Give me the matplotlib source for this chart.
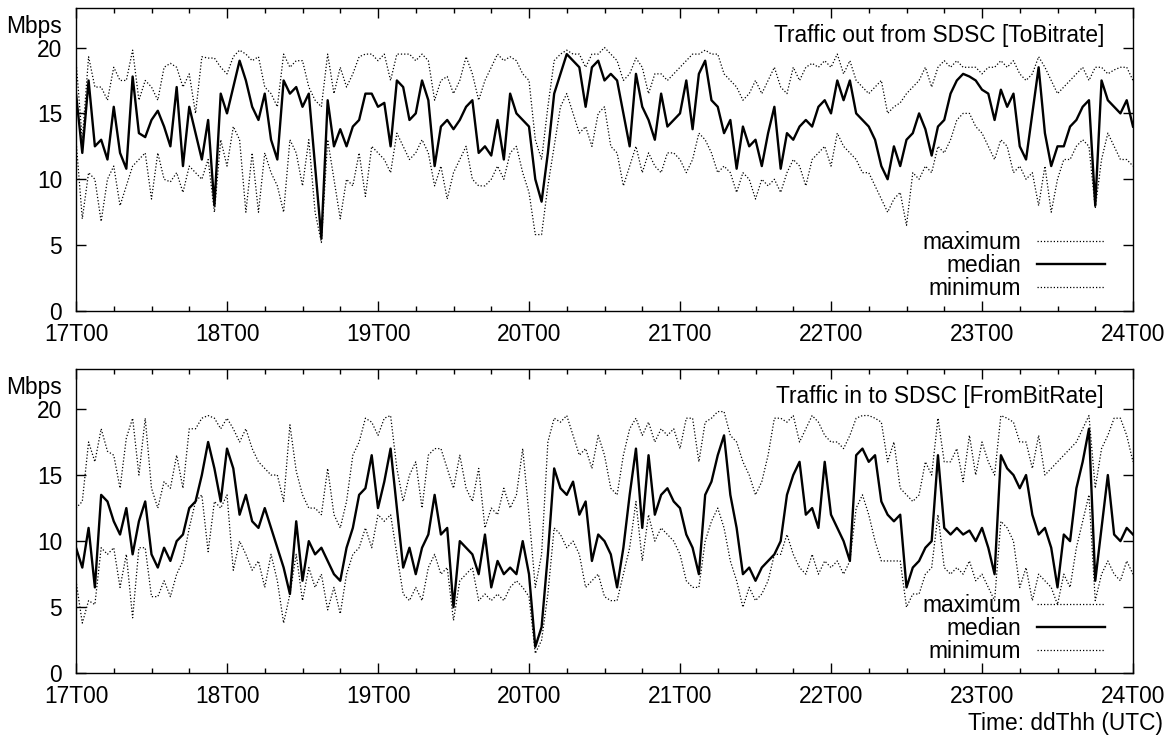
import numpy as np
import matplotlib
matplotlib.use("Agg")
import matplotlib.pyplot as plt

plt.rcParams['font.family'] = ['Liberation Sans', 'DejaVu Sans']
plt.rcParams['font.size'] = 16.4

# hodinove hodnoty od 17T00 do 24T00 (169 bodu)
hours = np.arange(169)
day_labels = ['17T00', '18T00', '19T00', '20T00', '21T00', '22T00', '23T00', '24T00']

# Traffic out from SDSC [ToBitrate]
out_median = [
    16.5, 12.0, 17.5, 12.5, 13.0, 11.5, 15.5, 12.0, 10.8, 17.8,
    13.5, 13.2, 14.5, 15.2, 14.0, 12.5, 17.0, 11.0, 15.5, 13.5,
    11.5, 14.5, 8.0, 16.5, 15.0, 17.0, 19.0, 17.5, 15.5, 14.5,
    16.5, 13.0, 11.5, 17.5, 16.5, 17.0, 15.5, 16.5, 11.0, 5.5,
    16.0, 12.5, 13.8, 12.5, 14.0, 14.5, 16.5, 16.5, 15.5, 15.8,
    12.5, 17.5, 17.0, 14.5, 15.0, 17.5, 16.0, 11.0, 14.0, 14.5,
    13.8, 14.5, 15.5, 16.0, 12.0, 12.5, 11.8, 14.5, 11.5, 16.5,
    15.0, 14.5, 14.0, 10.0, 8.3, 12.0, 16.5, 18.0, 19.5, 19.0,
    18.5, 15.5, 18.5, 19.0, 17.5, 18.0, 17.5, 15.0, 12.5, 18.0,
    15.5, 14.5, 13.0, 16.5, 14.0, 14.5, 15.0, 17.5, 13.8, 18.0,
    19.0, 16.0, 15.5, 13.5, 14.5, 10.8, 14.0, 12.5, 13.0, 11.0,
    13.5, 15.5, 10.8, 13.5, 13.0, 14.0, 14.5, 14.0, 15.5, 16.0,
    15.0, 17.5, 16.0, 17.5, 15.0, 14.5, 14.0, 13.0, 11.0, 10.0,
    12.5, 11.0, 13.0, 13.5, 15.0, 13.8, 11.8, 14.0, 14.5, 16.5,
    17.5, 18.0, 17.8, 17.5, 16.8, 16.5, 14.5, 16.8, 15.5, 16.5,
    12.5, 11.5, 15.0, 18.5, 13.5, 11.0, 12.5, 12.5, 14.0, 14.5,
    15.5, 16.0, 8.0, 17.5, 16.0, 15.5, 15.0, 16.0, 14.0]
out_max = [
    19.0, 13.0, 19.3, 17.0, 17.0, 16.0, 18.5, 17.5, 17.5, 19.8,
    16.0, 17.5, 17.0, 16.0, 18.5, 18.8, 18.5, 17.0, 18.0, 15.0,
    19.3, 19.2, 19.2, 18.5, 18.0, 19.3, 19.8, 19.5, 19.0, 19.3,
    17.0, 16.5, 15.5, 19.5, 18.5, 19.0, 19.0, 17.0, 16.0, 15.5,
    19.5, 16.5, 18.5, 17.0, 18.0, 19.3, 19.5, 19.5, 19.0, 19.5,
    17.5, 19.5, 19.5, 19.5, 19.0, 19.5, 19.0, 16.0, 17.5, 17.8,
    16.5, 17.5, 19.3, 18.0, 16.0, 17.5, 18.5, 19.5, 19.0, 19.3,
    19.0, 18.0, 17.5, 13.0, 11.5, 15.5, 19.0, 19.5, 19.8, 19.5,
    19.5, 18.5, 19.5, 19.5, 20.0, 19.5, 19.0, 17.5, 18.0, 19.2,
    18.5, 16.5, 18.0, 18.0, 17.5, 18.0, 18.5, 19.0, 19.5, 19.5,
    19.8, 19.5, 19.5, 18.0, 17.5, 17.0, 16.0, 16.5, 17.5, 16.5,
    17.5, 18.5, 17.0, 16.5, 18.5, 17.5, 18.5, 18.8, 18.5, 19.0,
    18.5, 19.5, 18.0, 19.0, 17.5, 17.0, 16.5, 17.0, 17.5, 15.0,
    15.5, 15.8, 16.5, 17.0, 17.5, 18.5, 17.0, 18.5, 19.0, 18.5,
    19.0, 18.5, 18.5, 18.5, 18.0, 18.5, 18.5, 19.0, 18.5, 19.0,
    18.0, 17.5, 18.0, 19.3, 18.5, 17.5, 16.5, 17.0, 17.5, 18.0,
    18.5, 17.5, 18.5, 18.5, 18.0, 18.3, 18.5, 18.5, 17.5]
out_min = [
    13.0, 7.0, 10.5, 10.0, 6.8, 10.0, 11.0, 8.0, 9.5, 11.0,
    11.5, 12.0, 8.5, 12.0, 10.0, 9.8, 10.5, 9.0, 11.0, 10.5,
    10.0, 11.5, 7.5, 13.0, 11.0, 14.0, 13.0, 7.5, 12.0, 7.5,
    12.0, 10.5, 9.5, 7.5, 13.0, 12.0, 9.5, 13.0, 7.5, 5.2,
    13.0, 10.0, 7.0, 10.0, 9.5, 12.0, 8.7, 12.5, 12.0, 11.5,
    10.5, 13.5, 12.5, 11.5, 12.0, 13.0, 12.0, 9.5, 11.0, 8.5,
    10.5, 11.5, 12.5, 10.0, 9.5, 9.5, 10.0, 11.0, 10.0, 12.0,
    12.5, 10.5, 9.0, 5.8, 5.8, 9.5, 12.5, 15.5, 16.5, 15.0,
    13.5, 14.0, 12.5, 15.0, 15.5, 12.5, 12.0, 9.5, 11.0, 12.5,
    10.5, 12.0, 11.0, 10.5, 12.0, 12.0, 11.5, 10.5, 11.5, 13.5,
    13.0, 12.0, 10.5, 11.0, 10.5, 9.0, 10.5, 10.0, 8.5, 10.0,
    9.5, 10.0, 9.0, 10.5, 11.5, 11.0, 9.5, 11.5, 12.0, 12.5,
    11.0, 13.5, 12.5, 12.0, 11.5, 10.5, 10.5, 9.5, 8.5, 7.5,
    8.5, 9.0, 6.5, 10.5, 10.0, 11.0, 10.5, 12.5, 12.0, 13.0,
    14.5, 15.0, 15.0, 14.0, 13.5, 12.5, 11.5, 13.0, 12.5, 10.5,
    11.0, 10.0, 10.5, 8.0, 11.0, 7.5, 10.0, 11.5, 11.5, 12.5,
    13.0, 12.5, 7.8, 11.5, 13.5, 12.5, 11.5, 11.5, 11.0]

# Traffic in to SDSC [FromBitRate]
in_median = [
    9.5, 8.0, 11.0, 6.5, 13.5, 13.0, 11.5, 10.5, 12.5, 9.0,
    11.5, 13.0, 9.0, 8.0, 9.5, 8.5, 10.0, 10.5, 12.5, 13.0,
    15.0, 17.5, 15.5, 13.0, 17.0, 15.5, 12.0, 13.5, 11.5, 11.0,
    12.5, 11.0, 9.5, 8.0, 6.0, 11.5, 7.0, 10.0, 9.0, 9.5,
    8.5, 7.5, 7.0, 9.5, 11.0, 13.5, 14.0, 16.5, 12.5, 14.5,
    17.0, 12.5, 8.0, 9.5, 7.5, 9.5, 10.5, 13.5, 10.5, 11.0,
    5.0, 10.0, 9.5, 9.0, 7.5, 10.5, 6.5, 8.5, 7.5, 8.0,
    7.5, 10.0, 7.5, 2.0, 3.5, 9.0, 15.5, 14.0, 13.5, 14.5,
    12.0, 13.0, 8.5, 10.5, 10.0, 9.0, 6.5, 9.5, 13.5, 17.0,
    11.0, 16.5, 12.0, 13.5, 14.0, 13.0, 12.5, 10.5, 9.5, 7.5,
    13.5, 14.5, 16.5, 18.0, 13.5, 11.0, 7.5, 8.0, 7.0, 8.0,
    8.5, 9.0, 10.0, 13.5, 15.0, 16.0, 12.0, 12.5, 11.0, 16.0,
    12.0, 11.0, 10.0, 8.5, 16.5, 17.0, 16.0, 16.5, 13.0, 12.0,
    11.5, 12.0, 6.5, 8.0, 8.5, 9.5, 10.0, 16.5, 11.0, 10.5,
    11.0, 10.5, 10.8, 10.0, 11.0, 9.5, 7.5, 16.5, 15.5, 15.0,
    14.0, 15.0, 12.0, 10.5, 11.0, 9.5, 6.5, 10.5, 10.0, 14.0,
    16.0, 18.5, 7.0, 11.0, 15.0, 10.5, 10.0, 11.0, 10.5]
in_max = [
    12.5, 13.0, 17.5, 16.0, 18.5, 16.8, 16.5, 14.0, 17.8, 19.3,
    15.0, 19.3, 14.0, 12.5, 14.5, 14.0, 16.5, 14.0, 18.5, 18.5,
    19.3, 19.5, 19.3, 18.5, 19.3, 18.5, 17.5, 18.5, 17.0, 16.0,
    15.5, 15.0, 15.0, 13.0, 18.8, 15.3, 13.5, 12.5, 12.5, 12.0,
    15.5, 12.0, 11.0, 13.0, 16.5, 17.5, 19.3, 19.0, 18.0, 19.3,
    19.5, 15.5, 13.0, 15.0, 16.0, 12.5, 16.5, 17.0, 17.0, 15.5,
    14.0, 16.5, 14.0, 13.0, 15.5, 11.0, 12.5, 12.0, 14.0, 12.5,
    13.5, 17.0, 12.0, 6.5, 9.0, 17.5, 19.3, 19.0, 19.5, 18.0,
    16.5, 17.0, 15.5, 18.0, 16.5, 14.0, 13.5, 16.5, 18.5, 19.3,
    18.0, 19.0, 17.5, 18.5, 18.0, 18.5, 17.0, 19.3, 19.3, 16.0,
    19.0, 19.3, 19.8, 19.8, 18.0, 17.5, 16.0, 15.0, 13.5, 14.5,
    16.5, 19.3, 19.3, 19.0, 19.5, 17.5, 18.5, 19.5, 19.0, 18.0,
    17.5, 17.5, 17.0, 18.0, 19.3, 19.5, 19.5, 19.3, 19.0, 16.0,
    17.5, 14.0, 13.5, 13.0, 13.5, 16.0, 15.0, 19.3, 16.0, 16.0,
    17.0, 14.5, 18.0, 15.0, 17.5, 16.0, 15.0, 19.5, 19.3, 19.0,
    17.5, 17.5, 15.5, 18.0, 15.0, 15.5, 16.0, 16.5, 17.0, 17.5,
    18.5, 19.5, 14.0, 17.0, 18.0, 19.3, 19.3, 18.0, 16.0]
in_min = [
    7.0, 3.8, 5.5, 5.2, 9.5, 9.0, 9.5, 6.5, 9.0, 4.2,
    9.5, 9.5, 5.8, 5.8, 7.0, 5.8, 7.5, 8.5, 11.0, 13.0,
    13.5, 9.2, 13.0, 12.5, 13.5, 7.8, 10.0, 9.0, 7.8, 8.5,
    6.5, 9.0, 7.0, 3.8, 6.0, 9.0, 5.5, 8.0, 6.5, 7.5,
    4.8, 6.5, 4.5, 7.5, 9.0, 9.5, 11.0, 9.5, 12.0, 11.5,
    12.0, 9.0, 6.0, 5.5, 6.5, 5.5, 8.0, 9.0, 7.5, 8.0,
    4.0, 7.0, 7.5, 8.0, 5.5, 6.0, 5.5, 6.0, 5.5, 6.5,
    7.0, 6.5, 5.8, 1.5, 2.5, 6.0, 11.0, 10.5, 9.5, 10.0,
    9.0, 6.5, 7.0, 7.5, 5.8, 5.5, 5.5, 7.5, 9.5, 13.0,
    8.5, 12.0, 10.0, 11.0, 10.5, 10.0, 9.0, 7.0, 6.5, 6.5,
    10.0, 11.5, 12.5, 11.0, 8.5, 7.0, 5.0, 6.5, 5.5, 6.0,
    7.0, 9.0, 9.0, 10.5, 9.0, 8.0, 7.5, 9.0, 7.5, 8.5,
    8.0, 8.5, 7.5, 8.5, 12.5, 13.5, 12.0, 10.0, 8.5, 8.5,
    8.5, 8.5, 5.0, 6.0, 6.0, 7.5, 8.0, 12.0, 8.0, 7.5,
    8.0, 7.5, 8.5, 7.0, 7.5, 6.5, 5.5, 11.5, 11.0, 10.0,
    6.5, 8.0, 5.5, 7.5, 7.0, 6.5, 5.2, 7.5, 6.5, 9.5,
    11.5, 13.5, 5.5, 7.5, 8.5, 7.5, 7.0, 8.5, 7.5]

dots = (0, (1, 1.6))


def panel(ax, title, maximum, median, minimum):
    ax.plot(hours, maximum, color='black', lw=0.9, ls=dots, label='maximum')
    ax.plot(hours, median, color='black', lw=1.7, label='median')
    ax.plot(hours, minimum, color='black', lw=0.9, ls=dots, label='minimum')

    ax.set_xlim(0, 168)
    ax.set_ylim(0, 23)
    ax.set_xticks(np.arange(0, 169, 24))
    ax.set_xticklabels(day_labels)
    ax.set_xticks(np.arange(0, 169, 6), minor=True)
    ax.set_yticks([0, 5, 10, 15, 20])
    ax.tick_params(which='both', direction='in', top=True, right=True, width=1)
    ax.tick_params(which='major', length=7.5)
    ax.tick_params(which='minor', length=3.6)
    ax.tick_params(axis='x', pad=8.5)
    ax.tick_params(axis='y', pad=10)
    for s in ax.spines.values():
        s.set_linewidth(1.0)

    ax.text(0.9726, 0.889, title, transform=ax.transAxes, ha='right', va='baseline')
    ax.text(-0.0133, 0.9175, 'Mbps', transform=ax.transAxes, ha='right', va='baseline')
    ax.legend(loc='lower right', bbox_to_anchor=(0.9735, 0.035), frameon=False,
              markerfirst=False, handlelength=3.0, handletextpad=0.68,
              labelspacing=0.0, borderpad=0, borderaxespad=0)


fig = plt.figure(figsize=(11.7, 7.44), dpi=100)
ax1 = fig.add_axes([0.06496, 0.58199, 0.90342, 0.40726])
ax2 = fig.add_axes([0.06496, 0.09503, 0.90342, 0.4086])

panel(ax1, 'Traffic out from SDSC [ToBitrate]', out_max, out_median, out_min)
panel(ax2, 'Traffic in to SDSC [FromBitRate]', in_max, in_median, in_min)

fig.text(0.994, 0.028, 'Time: ddThh (UTC)', ha='right', va='center')

fig.savefig('out.png', dpi=100)
